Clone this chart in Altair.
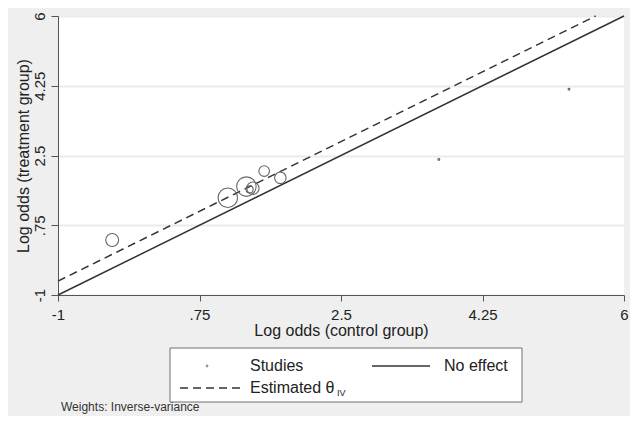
import altair as alt
import pandas as pd

# ---- data (L'Abbé plot) ----
study_control = [-0.33, 1.10, 1.33, 1.41, 1.37, 1.55, 1.75, 3.71, 5.32]
study_treatment = [0.38, 1.44, 1.72, 1.68, 1.65, 2.11, 1.94, 2.40, 4.16]
study_weight = [12.0, 27.5, 27.5, 11.1, 3.6, 8.2, 9.6, 0.25, 0.25]
theta_iv = 0.35
axis_min, axis_max = -1, 6
tick_values = [-1, 0.75, 2.5, 4.25, 6]
tick_labels = ["-1", ".75", "2.5", "4.25", "6"]

FONT = "Liberation Sans"
TXT = "#222222"
LINE = "#333333"

studies = pd.DataFrame({"control": study_control, "treatment": study_treatment, "weight": study_weight})
no_effect = pd.DataFrame({"control": [axis_min, axis_max], "treatment": [axis_min, axis_max]})
estimated = pd.DataFrame({"control": [axis_min, axis_max - theta_iv],
                          "treatment": [axis_min + theta_iv, axis_max]})

label_expr = ""
for v, l in zip(tick_values, tick_labels):
    label_expr += f"datum.value == {v} ? '{l}' : "
label_expr += "datum.label"

xscale = alt.Scale(domain=[axis_min, axis_max], nice=False, zero=False)
yscale = alt.Scale(domain=[axis_min, axis_max], nice=False, zero=False)

xaxis = alt.Axis(values=tick_values, labelExpr=label_expr, title="Log odds (control group)",
                 grid=False, tickSize=6, labelPadding=6, labelFontSize=15, titleFontSize=16,
                 domainColor="#555555", tickColor="#555555", labelColor=TXT, titleColor=TXT,
                 titlePadding=0, labelFont=FONT, titleFont=FONT, titleFontWeight="normal",
                 labelFlush=False, labelOverlap=False)
yaxis = alt.Axis(values=tick_values, labelExpr=label_expr, title="Log odds (treatment group)",
                 grid=True, gridColor="#ebebeb", gridWidth=2, tickSize=7, labelPadding=4,
                 labelAngle=270, labelAlign="center", labelBaseline="bottom",
                 labelFontSize=15, titleFontSize=16, domainColor="#555555", tickColor="#555555",
                 labelColor=TXT, titleColor=TXT, titlePadding=1, labelFont=FONT, titleFont=FONT,
                 titleFontWeight="normal", labelFlush=False, labelOverlap=False)

base_x = alt.X("control:Q", scale=xscale, axis=xaxis)
base_y = alt.Y("treatment:Q", scale=yscale, axis=yaxis)

line_solid = alt.Chart(no_effect).mark_line(color=LINE, strokeWidth=1.5).encode(x=base_x, y=base_y)
line_dash = alt.Chart(estimated).mark_line(color=LINE, strokeWidth=1.5, strokeDash=[8, 5]).encode(
    x="control:Q", y="treatment:Q")
points = alt.Chart(studies).mark_point(shape="circle", filled=False, color="#666666",
                                       strokeWidth=1.1, opacity=1).encode(
    x="control:Q", y="treatment:Q",
    size=alt.Size("weight:Q", scale=alt.Scale(domain=[0, max(study_weight)], range=[0, 380]),
                  legend=None))

one = alt.Data(values=[{"a": 1}])

legend_box = alt.Chart(one).mark_rect(fill="white", stroke="#707070", strokeWidth=1).encode(
    x=alt.value(112), x2=alt.value(464), y=alt.value(332), y2=alt.value(386))
leg_dot = alt.Chart(one).mark_point(shape="circle", filled=True, color="#999999", size=8, opacity=1).encode(
    x=alt.value(149), y=alt.value(350))
leg_solid = alt.Chart(one).mark_rule(color=LINE, strokeWidth=1.5).encode(
    x=alt.value(314), x2=alt.value(372), y=alt.value(350))
leg_dash = alt.Chart(one).mark_rule(color=LINE, strokeWidth=1.5, strokeDash=[8, 5]).encode(
    x=alt.value(122), x2=alt.value(184), y=alt.value(372))


def txt(s, x, y, size=16, color=TXT):
    return alt.Chart(one).mark_text(align="left", baseline="middle", font=FONT, fontSize=size,
                                    color=color).encode(x=alt.value(x), y=alt.value(y), text=alt.value(s))


leg_t1 = txt("Studies", 192, 350)
leg_t2 = txt("No effect", 386, 350)
leg_t3 = txt("Estimated θ", 192, 372)
leg_t4 = txt("IV", 279, 377, size=9)
note = txt("Weights: Inverse-variance", 3, 391, size=12, color="#333333")

chart = alt.layer(line_solid, line_dash, points, legend_box, leg_dot, leg_solid, leg_dash,
                  leg_t1, leg_t2, leg_t3, leg_t4, note).properties(
    width=566, height=279,
    autosize=alt.AutoSizeParams(type="none"),
    padding={"left": 50, "top": 8, "right": 6, "bottom": 121},
    background="#efefef",
).configure_view(fill="white", stroke=None)

chart.save("out.html", embed_options={"renderer": "svg", "actions": False})
